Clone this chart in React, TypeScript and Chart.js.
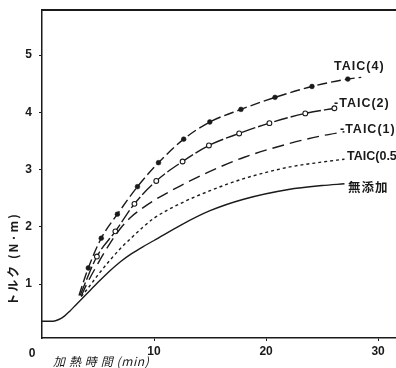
import React, { useEffect, useRef } from "react";
import { Chart, registerables } from "chart.js";
Chart.register(...registerables);

// x: heating time (min), y: torque (N·m)
const xTickValues = [10, 20, 30];
const yTickValues = [1, 2, 3, 4, 5];

const noneX = [0, 1, 1.5, 2, 2.5, 3, 3.5, 4, 5, 6, 7, 8, 9, 10, 12.4, 15, 18, 22, 25, 27];
const noneY = [0.35, 0.35, 0.38, 0.44, 0.53, 0.63, 0.73, 0.83, 1.03, 1.22, 1.39, 1.53, 1.65, 1.76, 2.03, 2.28, 2.48, 2.65, 2.72, 2.75];

const taic05X = [3.5, 4, 5, 6, 7, 8, 9, 10, 12.4, 15, 18, 22, 25, 27];
const taic05Y = [0.78, 0.9, 1.16, 1.4, 1.62, 1.81, 1.99, 2.15, 2.41, 2.63, 2.84, 3.04, 3.13, 3.18];

const taic1X = [3.5, 4, 5, 6, 7, 8, 9, 10, 12.4, 14.8, 18, 22.2, 25, 27];
const taic1Y = [0.79, 1.0, 1.36, 1.69, 1.97, 2.18, 2.33, 2.46, 2.72, 2.95, 3.21, 3.46, 3.59, 3.66];

const taic2X = [3.4, 4.9, 6.55, 8.25, 10.2, 12.55, 14.9, 17.6, 20.3, 23.5, 26.1];
const taic2Y = [0.8, 1.48, 1.92, 2.4, 2.8, 3.14, 3.42, 3.63, 3.81, 3.98, 4.07];

const taic4X = [3.3, 4.13, 5.29, 6.73, 8.52, 10.4, 12.65, 14.98, 17.76, 20.8, 24.1, 27.3, 28.5];
const taic4Y = [0.8, 1.28, 1.8, 2.22, 2.7, 3.12, 3.53, 3.83, 4.05, 4.26, 4.45, 4.58, 4.61];

const seriesLabels = ["TAIC(4)", "-TAIC(2)", "-TAIC(1)", "TAIC(0.5)", "無添加"];
const labelX = [26.07, 26.07, 26.6, 27.23, 27.32];
const labelY = [4.79, 4.16, 3.69, 3.22, 2.69];

const xTitle = "加 熱 時 間 (min)";
const yTitle = "トルク (N·m)";

const toPts = (xs: number[], ys: number[]) => xs.map((x, i) => ({ x, y: ys[i] }));

export default function App() {
  const ref = useRef<HTMLCanvasElement | null>(null);
  useEffect(() => {
    if (!ref.current) return;
    const ink = "#1a1a1a";
    const annot = {
      id: "annot",
      afterDraw(chart: any) {
        const { ctx, chartArea, scales } = chart;
        const xs = scales.x, ys = scales.y;
        ctx.save();
        // top frame line
        ctx.strokeStyle = ink;
        ctx.lineWidth = 2;
        ctx.beginPath();
        ctx.moveTo(chartArea.left - 1, chartArea.top);
        ctx.lineTo(chartArea.right, chartArea.top);
        ctx.stroke();
        // origin label
        ctx.fillStyle = ink;
        ctx.font = "bold 12px 'Liberation Sans'";
        ctx.textAlign = "center";
        ctx.textBaseline = "middle";
        ctx.fillText("0", xs.getPixelForValue(0) - 10, ys.getPixelForValue(0.057) + 16);
        // series labels
        ctx.textAlign = "left";
        seriesLabels.forEach((t, i) => {
          const isCJK = /[^\x00-\x7f]/.test(t);
          ctx.font = isCJK ? "bold 12.5px 'Noto Sans CJK JP'" : "bold 12.5px 'Liberation Sans'";
          (ctx as any).letterSpacing = t.includes("0.5") ? "0px" : "1px";
          ctx.fillText(t, xs.getPixelForValue(labelX[i]), ys.getPixelForValue(labelY[i]));
        });
        // x title
        ctx.font = "italic 12px 'Noto Sans CJK JP'";
        (ctx as any).letterSpacing = "0.6px";
        ctx.fillText(xTitle, 53, 361);
        // y title
        ctx.translate(13, 259);
        ctx.rotate(-Math.PI / 2);
        ctx.textAlign = "center";
        ctx.font = "bold 12px 'Noto Sans CJK JP'";
        (ctx as any).letterSpacing = "2px";
        ctx.fillText(yTitle, 0, 0);
        ctx.restore();
      },
    };
    const base = {
      borderColor: ink,
      borderWidth: 1.4,
      fill: false,
      cubicInterpolationMode: "monotone" as const,
      pointRadius: 0,
    };
    const chart = new Chart(ref.current, {
      type: "line",
      data: {
        datasets: [
          { ...base, label: "無添加", data: toPts(noneX, noneY) },
          { ...base, label: "TAIC(0.5)", data: toPts(taic05X, taic05Y), borderDash: [3, 3] },
          { ...base, label: "TAIC(1)", data: toPts(taic1X, taic1Y), borderDash: [12, 6] },
          {
            ...base,
            label: "TAIC(2)",
            data: toPts(taic2X, taic2Y),
            borderDash: [14, 3],
            pointRadius: (c: any) => (c.dataIndex === 0 ? 0 : 2.4),
            pointBackgroundColor: "#ffffff",
            pointBorderColor: ink,
            pointBorderWidth: 1.1,
          },
          {
            ...base,
            label: "TAIC(4)",
            data: toPts(taic4X, taic4Y),
            borderDash: [10, 4],
            pointRadius: (c: any) => (c.dataIndex === 0 || c.dataIndex === taic4X.length - 1 ? 0 : 2.4),
            pointBackgroundColor: ink,
            pointBorderColor: ink,
            pointBorderWidth: 0.5,
          },
        ],
      },
      options: {
        animation: false,
        responsive: true,
        maintainAspectRatio: false,
        layout: { autoPadding: false, padding: { top: 10, right: 0, left: 0, bottom: 0 } },
        plugins: { legend: { display: false }, tooltip: { enabled: false } },
        scales: {
          x: {
            type: "linear",
            min: 0,
            max: 31.6,
            afterFit: (s: any) => { s.height = 30; s.paddingLeft = 0; s.paddingRight = 0; },
            afterBuildTicks: (s: any) => { s.ticks = xTickValues.map((v) => ({ value: v })); },
            grid: { drawOnChartArea: false, drawTicks: true, tickLength: 3, color: ink },
            border: { color: ink, width: 1.5 },
            ticks: { color: ink, font: { family: "'Liberation Sans'", size: 12, weight: "bold" }, padding: 3, maxRotation: 0 },
          },
          y: {
            type: "linear",
            min: 0.057,
            max: 5.786,
            afterFit: (s: any) => { s.width = 42; s.paddingTop = 0; s.paddingBottom = 0; },
            afterBuildTicks: (s: any) => { s.ticks = yTickValues.map((v) => ({ value: v })); },
            grid: { drawOnChartArea: false, drawTicks: true, tickLength: 3, color: ink },
            border: { color: ink, width: 1.5 },
            ticks: { color: ink, font: { family: "'Liberation Sans'", size: 12, weight: "bold" }, padding: 7 },
          },
        },
      },
      plugins: [annot],
    });
    return () => chart.destroy();
  }, []);
  return (
    <div style={{ position: "absolute", left: 0, top: 0, width: 396, height: 368, background: "#fff" }}>
      <canvas ref={ref} />
    </div>
  );
}
